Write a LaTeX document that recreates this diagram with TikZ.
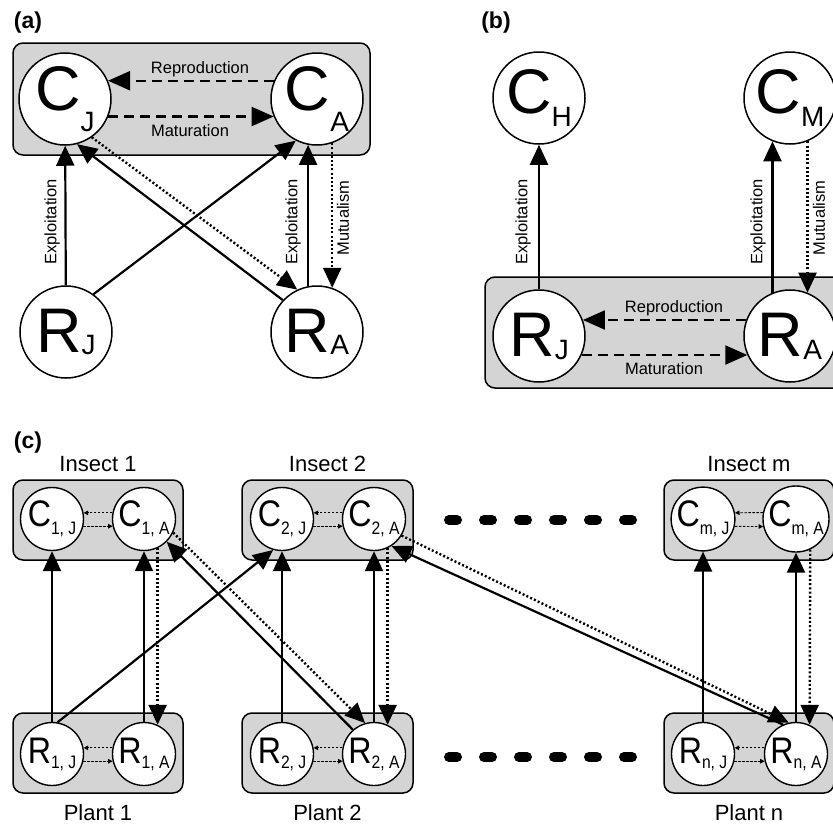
\documentclass[tikz,border=0pt]{standalone}
\usepackage{fontspec}
\setmainfont{Liberation Sans}
\usetikzlibrary{arrows.meta,positioning}
\definecolor{boxgray}{gray}{0.83}
% population symbols: big letter with lowered subscript
\newcommand{\bigsym}[3][20pt]{{\fontsize{63}{63}\selectfont #2}\raisebox{-#1}{\fontsize{28}{28}\selectfont #3}}
\newcommand{\smallsym}[3][8pt]{\scalebox{0.87}[1]{{\fontsize{37}{37}\selectfont #2}\raisebox{-#1}{\fontsize{18}{18}\selectfont #3}}}
\tikzset{
  popbig/.style={circle,draw,fill=white,line width=1.5pt,minimum size=92pt,inner sep=0pt},
  popsmall/.style={circle,draw,fill=white,line width=1.4pt,minimum size=63pt,inner sep=0pt},
  grpbox/.style={draw,fill=boxgray,rounded corners=10pt,line width=1.5pt,inner sep=0pt},
  feeds/.style={line width=2.2pt,->},
  mutual/.style={feeds,line width=2.4pt,dash pattern=on 2pt off 2.2pt},
  ageflow/.style={line width=2.2pt,dash pattern=on 10pt off 6pt,-{Stealth[length=22pt,width=19pt,inset=0pt]}},
  ageflowsmall/.style={line width=0.9pt,dash pattern=on 2.5pt off 1.5pt,-{Stealth[length=4.5pt,width=4.5pt,inset=0pt]}},
  linklbl/.style={font=\fontsize{16.5}{16.5}\selectfont,inner sep=0pt},
  grplbl/.style={font=\fontsize{22}{22}\selectfont,inner sep=0pt},
  panel/.style={font=\fontsize{23}{23}\selectfont\bfseries,inner sep=0pt},
  gapdash/.style={line width=10pt,line cap=round,dash pattern=on 8pt off 27pt}
}
\begin{document}
\begin{tikzpicture}[x=1pt,y=-1pt,>={Stealth[length=20pt,width=18pt,inset=0pt]}]
\useasboundingbox (0,0) rectangle (833,825);
\clip (0,0) rectangle (833,825);
%% panel (a)
\node[panel] (titleA) at (28,23) {(a)};
\node[grpbox,minimum width=357pt,minimum height=112pt] (boxA) at (191.5,99) {};
\node[popbig] (CJa) at (65,99) {\bigsym[21pt]{C}{J}};
\node[popbig] (CAa) at (317,99) {\bigsym[21pt]{C}{A}};
\node[popbig] (RJa) at (66,332) {\bigsym[2pt]{R}{J}};
\node[popbig] (RAa) at (317,332) {\bigsym[2pt]{R}{A}};
\draw[ageflow] (CAa.157) -- (CJa.23);
\draw[ageflow] (CJa.-22) -- (CAa.202);
\draw[feeds] (RJa) -- (CJa);
\draw[feeds] (RJa.54) -- (CAa.243);
\draw[feeds] (RAa.137) -- (CJa.285);
\draw[mutual] (CJa.305) -- (RAa.115);
\draw[feeds] (RAa.101) -- (CAa.259);
\draw[mutual] (CAa.289) -- (RAa.71);
\node[linklbl] (reproA) at (200,69) {Reproduction};
\node[linklbl] (matA) at (190,131) {Maturation};
\node[linklbl,rotate=90] (exJa) at (52,222) {Exploitation};
\node[linklbl,rotate=90] (exAa) at (293,222) {Exploitation};
\node[linklbl,rotate=90] (mutA) at (343,218) {Mutualism};
%% panel (b)
\node[panel] (titleB) at (496,23) {(b)};
\node[grpbox,minimum width=362pt,minimum height=111pt] (boxB) at (666,332.5) {};
\node[popbig] (CH) at (539,98) {\bigsym[13pt]{C}{H}};
\node[popbig] (CM) at (790,98) {\bigsym[13pt]{C}{M}};
\node[popbig] (RJb) at (539,336) {\bigsym[3pt]{R}{J}};
\node[popbig] (RAb) at (790,336) {\bigsym[3pt]{R}{A}};
\draw[ageflow] (RAb.160) -- (RJb.20);
\draw[ageflow] (RJb.-24) -- (RAb.204);
\draw[feeds] (RJb) -- (CH);
\draw[feeds] (RAb.112) -- (CM.248);
\draw[mutual] (CM.292) -- (RAb.68);
\node[linklbl] (reproB) at (674,308) {Reproduction};
\node[linklbl] (matB) at (664,369) {Maturation};
\node[linklbl,rotate=90] (exJb) at (523,222) {Exploitation};
\node[linklbl,rotate=90] (exAb) at (758,222) {Exploitation};
\node[linklbl,rotate=90] (mutB) at (819,218) {Mutualism};
%% panel (c)
\node[panel] (titleC) at (28,443) {(c)};
\node[grpbox,minimum width=170pt,minimum height=80pt] (ins1) at (98,520) {};
\node[grpbox,minimum width=171pt,minimum height=80pt] (ins2) at (327.5,520) {};
\node[grpbox,minimum width=170pt,minimum height=80pt] (insm) at (749,520) {};
\node[grpbox,minimum width=170pt,minimum height=80pt] (pl1) at (98,753) {};
\node[grpbox,minimum width=171pt,minimum height=80pt] (pl2) at (327.5,753) {};
\node[grpbox,minimum width=170pt,minimum height=80pt] (pln) at (749,753) {};
\node[grplbl,above=7pt of ins1] (lblIns1) {Insect 1};
\node[grplbl,above=7pt of ins2] (lblIns2) {Insect 2};
\node[grplbl,above=7pt of insm] (lblInsm) {Insect m};
\node[grplbl,below=11pt of pl1] (lblPl1) {Plant 1};
\node[grplbl,below=11pt of pl2] (lblPl2) {Plant 2};
\node[grplbl,below=11pt of pln] (lblPln) {Plant n};
\node[popsmall] (C1J) at (52,519) {\smallsym{C}{1, J}};
\node[popsmall] (C1A) at (144,519) {\smallsym{C}{1, A}};
\node[popsmall] (C2J) at (282,519) {\smallsym{C}{2, J}};
\node[popsmall] (C2A) at (374,519) {\smallsym{C}{2, A}};
\node[popsmall] (CmJ) at (703,519) {\smallsym{C}{m, J}};
\node[popsmall] (CmA) at (796,519) {\smallsym{C}{m, A}};
\node[popsmall] (R1J) at (52,754) {\smallsym[5pt]{R}{1, J}};
\node[popsmall] (R1A) at (144,754) {\smallsym[5pt]{R}{1, A}};
\node[popsmall] (R2J) at (282,754) {\smallsym[5pt]{R}{2, J}};
\node[popsmall] (R2A) at (374,754) {\smallsym[5pt]{R}{2, A}};
\node[popsmall] (RnJ) at (703,754) {\smallsym[5pt]{R}{n, J}};
\node[popsmall] (RnA) at (796,754) {\smallsym[5pt]{R}{n, A}};
% stage flows inside each box
\draw[ageflowsmall] (C1A.169) -- (C1J.11);
\draw[ageflowsmall] (C1J.347) -- (C1A.193);
\draw[ageflowsmall] (C2A.169) -- (C2J.11);
\draw[ageflowsmall] (C2J.347) -- (C2A.193);
\draw[ageflowsmall] (CmA.169) -- (CmJ.11);
\draw[ageflowsmall] (CmJ.347) -- (CmA.193);
\draw[ageflowsmall] (R1A.169) -- (R1J.11);
\draw[ageflowsmall] (R1J.347) -- (R1A.193);
\draw[ageflowsmall] (R2A.169) -- (R2J.11);
\draw[ageflowsmall] (R2J.347) -- (R2A.193);
\draw[ageflowsmall] (RnA.169) -- (RnJ.11);
\draw[ageflowsmall] (RnJ.347) -- (RnA.193);
% plant-insect links
\draw[feeds] (R1J) -- (C1J);
\draw[feeds] (R1J.80) -- (C2J.254);
\draw[feeds] (R1A) -- (C1A);
\draw[mutual] (C1A.295) -- (R1A.65);
\draw[feeds] (R2A.131) -- (C1A.315);
\draw[mutual] (C1A.335) -- (R2A.106);
\draw[feeds] (R2J) -- (C2J);
\draw[feeds] (R2A) -- (C2A);
\draw[mutual] (C2A.295) -- (R2A.65);
\draw[feeds] (RnA.114) -- (C2A.303);
\draw[mutual] (C2A.329) -- (RnA.103);
\draw[feeds] (RnJ) -- (CmJ);
\draw[feeds] (RnA) -- (CmA);
\draw[mutual] (CmA.295) -- (RnA.65);
% ellipsis dashes
\draw[gapdash] (449,520) -- (632,520);
\draw[gapdash] (449,757) -- (632,757);
%
\end{tikzpicture}
\end{document}
